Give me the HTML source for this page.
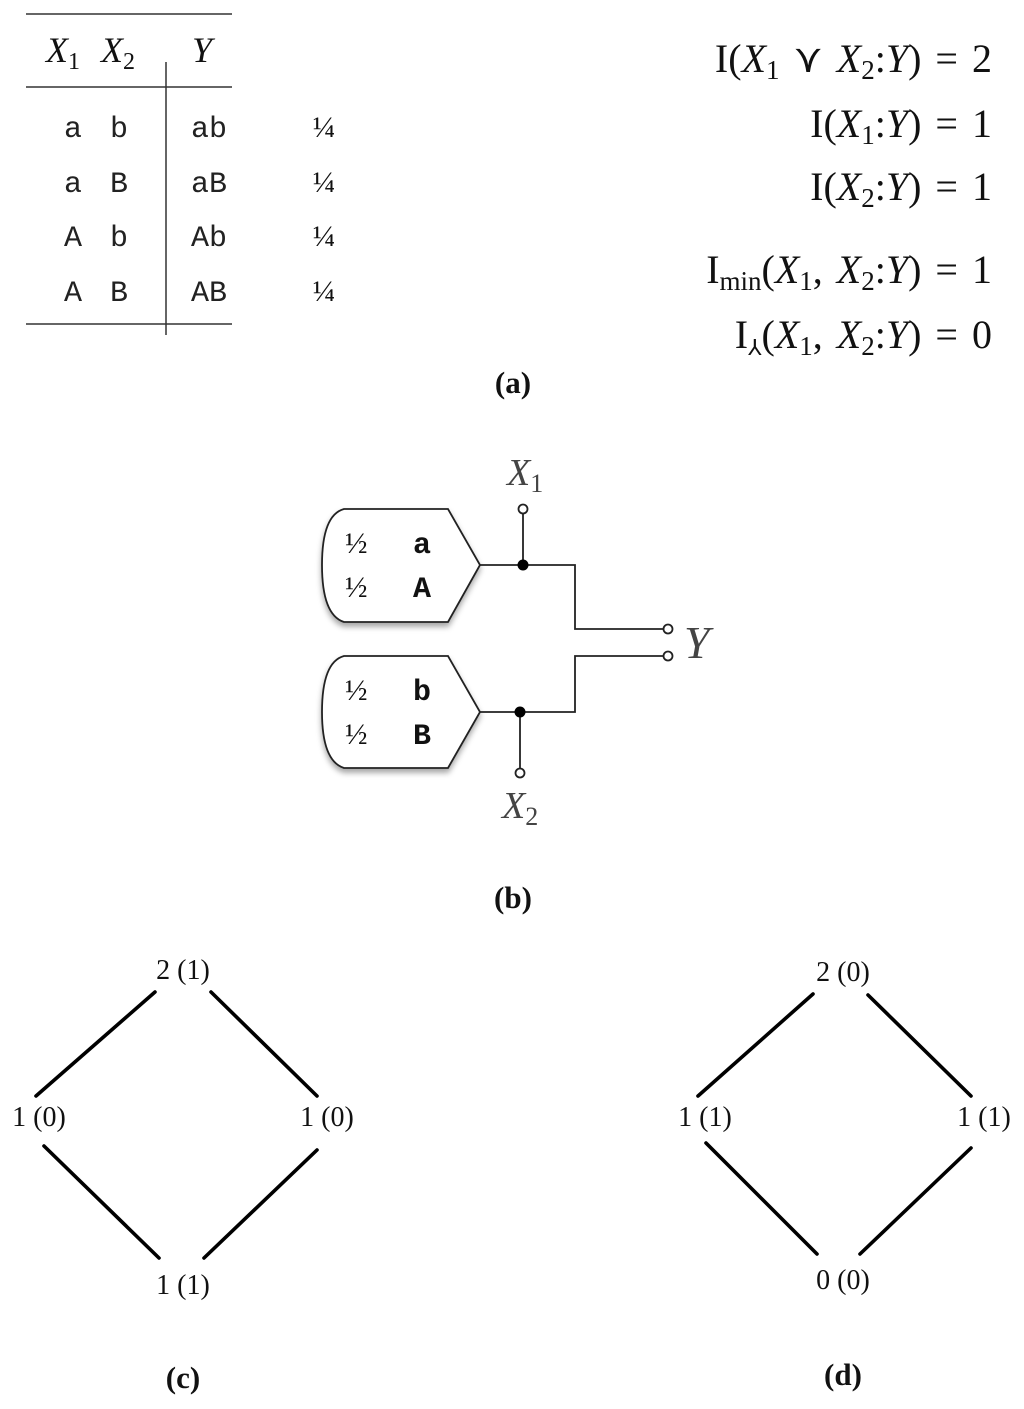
<!DOCTYPE html>
<html><head><meta charset="utf-8"><style>
body{margin:0;background:#fff;}
svg{display:block}
.s{font-family:"Liberation Serif",serif;}
</style></head><body>
<svg width="1024" height="1409" viewBox="0 0 1024 1409" xmlns="http://www.w3.org/2000/svg">
<defs>
<filter id="sh" x="-20%" y="-20%" width="140%" height="150%"><feDropShadow dx="0" dy="4" stdDeviation="3" flood-color="#000" flood-opacity="0.35"/></filter>
</defs>
<!-- table -->
<g stroke="#333" stroke-width="1.5">
<line x1="26" y1="14" x2="232" y2="14"/>
<line x1="26" y1="87" x2="232" y2="87"/>
<line x1="26" y1="324" x2="232" y2="324"/>
<line x1="166" y1="62" x2="166" y2="335"/>
</g>
<g class="s" font-size="36" font-style="italic" fill="#111">
<text x="46" y="62">X<tspan font-style="normal" font-size="24" dy="7">1</tspan></text>
<text x="101" y="62">X<tspan font-style="normal" font-size="24" dy="7">2</tspan></text>
<text x="192" y="62">Y</text>
</g>
<g font-family="'Liberation Mono','DejaVu Sans Mono',monospace" font-size="30" fill="#222" text-anchor="middle">
<text x="73" y="137">a</text><text x="119" y="137">b</text><text x="209" y="137">ab</text>
<text x="73" y="192">a</text><text x="119" y="192">B</text><text x="209" y="192">aB</text>
<text x="73" y="246">A</text><text x="119" y="246">b</text><text x="209" y="246">Ab</text>
<text x="73" y="301">A</text><text x="119" y="301">B</text><text x="209" y="301">AB</text>
</g>
<g class="s" font-size="30" fill="#111" text-anchor="middle">
<text x="324" y="137">¼</text><text x="324" y="192">¼</text><text x="324" y="246">¼</text><text x="324" y="301">¼</text>
</g>
<!-- equations -->
<g class="s" font-size="40" fill="#111" text-anchor="end" word-spacing="4">
<text x="992" y="72">I(<tspan font-style="italic">X</tspan><tspan font-size="27" dy="7">1</tspan><tspan dy="-7"> ⋎ </tspan><tspan font-style="italic">X</tspan><tspan font-size="27" dy="7">2</tspan><tspan dy="-7">:</tspan><tspan font-style="italic">Y</tspan>) = 2</text>
<text x="992" y="137">I(<tspan font-style="italic">X</tspan><tspan font-size="27" dy="7">1</tspan><tspan dy="-7">:</tspan><tspan font-style="italic">Y</tspan>) = 1</text>
<text x="992" y="200">I(<tspan font-style="italic">X</tspan><tspan font-size="27" dy="7">2</tspan><tspan dy="-7">:</tspan><tspan font-style="italic">Y</tspan>) = 1</text>
<text x="992" y="283">I<tspan font-size="27" dy="7">min</tspan><tspan dy="-7">(</tspan><tspan font-style="italic">X</tspan><tspan font-size="27" dy="7">1</tspan><tspan dy="-7">, </tspan><tspan font-style="italic">X</tspan><tspan font-size="27" dy="7">2</tspan><tspan dy="-7">:</tspan><tspan font-style="italic">Y</tspan>) = 1</text>
<text x="992" y="348">I<tspan font-size="22" dy="7">⅄</tspan><tspan dy="-7">(</tspan><tspan font-style="italic">X</tspan><tspan font-size="27" dy="7">1</tspan><tspan dy="-7">, </tspan><tspan font-style="italic">X</tspan><tspan font-size="27" dy="7">2</tspan><tspan dy="-7">:</tspan><tspan font-style="italic">Y</tspan>) = 0</text>
</g>
<text x="513" y="393" class="s" font-size="31" font-weight="bold" text-anchor="middle" fill="#111">(a)</text>
<!-- circuit -->
<g stroke="#222" stroke-width="1.8" fill="#fff">
<path d="M344,509 L448,509 L480,565 L448,622 L344,622 Q322,615 322,565 Q322,515 344,509 Z" filter="url(#sh)"/>
<path d="M344,656 L448,656 L480,712 L448,768 L344,768 Q322,761 322,712 Q322,662 344,656 Z" filter="url(#sh)"/>
<polyline fill="none" points="480,565 575,565 575,629 664,629"/>
<polyline fill="none" points="480,712 575,712 575,656 664,656"/>
<line x1="523" y1="513" x2="523" y2="565"/>
<line x1="520" y1="712" x2="520" y2="768"/>
<circle cx="523" cy="509" r="4.5"/>
<circle cx="520" cy="773" r="4.5"/>
<circle cx="668" cy="629" r="4.5"/>
<circle cx="668" cy="656" r="4.5"/>
</g>
<circle cx="523" cy="565" r="5.5" fill="#000"/>
<circle cx="520" cy="712" r="5.5" fill="#000"/>
<g class="s" font-size="30" fill="#111">
<text x="345" y="553">½</text><text x="345" y="597">½</text>
<text x="345" y="700">½</text><text x="345" y="744">½</text>
</g>
<g font-family="'Liberation Mono','DejaVu Sans Mono',monospace" font-size="30" font-weight="bold" fill="#111" text-anchor="middle">
<text x="422" y="553">a</text><text x="422" y="597">A</text>
<text x="422" y="700">b</text><text x="422" y="744">B</text>
</g>
<g class="s" font-style="italic" fill="#444">
<text x="507" y="485" font-size="38">X<tspan font-style="normal" font-size="26" dy="7">1</tspan></text>
<text x="502" y="818" font-size="38">X<tspan font-style="normal" font-size="26" dy="7">2</tspan></text>
<text x="684" y="658" font-size="46">Y</text>
</g>
<text x="513" y="908" class="s" font-size="31" font-weight="bold" text-anchor="middle" fill="#111">(b)</text>
<!-- lattices -->
<g stroke="#000" stroke-width="3.6" stroke-linecap="round">
<line x1="155" y1="992" x2="36" y2="1096"/>
<line x1="211" y1="992" x2="317" y2="1096"/>
<line x1="44" y1="1146" x2="159" y2="1258"/>
<line x1="317" y1="1150" x2="204" y2="1258"/>
<line x1="813" y1="994" x2="698" y2="1096"/>
<line x1="868" y1="995" x2="971" y2="1096"/>
<line x1="706" y1="1143" x2="817" y2="1254"/>
<line x1="971" y1="1148" x2="860" y2="1254"/>
</g>
<g class="s" font-size="28" fill="#111" text-anchor="middle">
<text x="183" y="979">2 (1)</text>
<text x="39" y="1126">1 (0)</text>
<text x="327" y="1126">1 (0)</text>
<text x="183" y="1294">1 (1)</text>
<text x="843" y="981">2 (0)</text>
<text x="705" y="1126">1 (1)</text>
<text x="984" y="1126">1 (1)</text>
<text x="843" y="1289">0 (0)</text>
</g>
<text x="183" y="1388" class="s" font-size="31" font-weight="bold" text-anchor="middle" fill="#111">(c)</text>
<text x="843" y="1385" class="s" font-size="31" font-weight="bold" text-anchor="middle" fill="#111">(d)</text>
</svg>
</body></html>
